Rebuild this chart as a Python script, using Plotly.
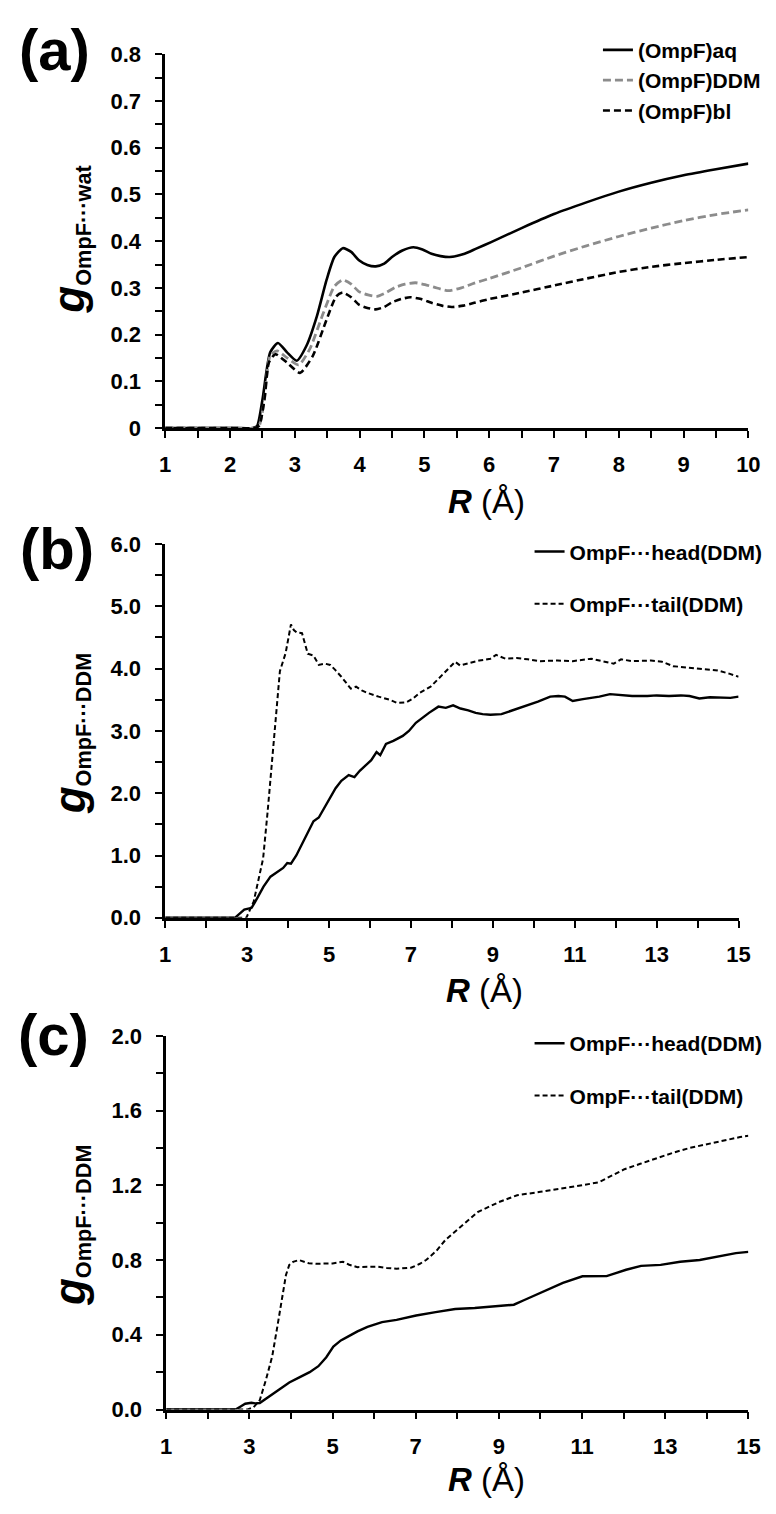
import plotly.graph_objects as go

W, H = 776, 1514
FONT = "Liberation Sans, Arial, sans-serif"

# ---------------- data ----------------
# panel (a): g(OmpF...wat)
aq_R = [1.0, 2.0, 2.35, 2.42, 2.5, 2.62, 2.74, 2.88, 3.03, 3.18, 3.34, 3.49, 3.61, 3.74, 3.87, 3.99, 4.12, 4.25, 4.38, 4.5,
        4.66, 4.83, 4.97, 5.11, 5.25, 5.39, 5.62, 5.8, 6.03, 6.5, 7.0, 7.5, 8.0, 8.5, 9.0, 9.5, 10.0]
aq_g = [0, 0, 0, 0.005, 0.06, 0.162, 0.182, 0.162, 0.144, 0.176, 0.239, 0.317, 0.366, 0.385, 0.377, 0.359, 0.349, 0.346,
        0.352, 0.366, 0.38, 0.387, 0.382, 0.373, 0.368, 0.366, 0.373, 0.384, 0.398, 0.428, 0.458, 0.483, 0.506, 0.525,
        0.541, 0.554, 0.566]

ddm_R = [1.0, 2.0, 2.38, 2.45, 2.53, 2.62, 2.73, 2.88, 3.06, 3.23, 3.44, 3.61, 3.74, 3.87, 3.99, 4.13, 4.27, 4.41, 4.55,
         4.7, 4.86, 5.01, 5.16, 5.37, 5.57, 5.77, 6.0, 6.5, 7.0, 7.5, 8.0, 8.5, 9.0, 9.5, 10.0]
ddm_g = [0, 0, 0, 0.005, 0.06, 0.155, 0.165, 0.15, 0.135, 0.169, 0.246, 0.303, 0.317, 0.308, 0.292, 0.285, 0.282, 0.29,
         0.301, 0.308, 0.311, 0.307, 0.301, 0.294, 0.3, 0.31, 0.32, 0.343, 0.368, 0.39, 0.41, 0.428, 0.444, 0.457, 0.467]

bl_R = [1.0, 2.0, 2.38, 2.45, 2.53, 2.6, 2.7, 2.88, 3.08, 3.28, 3.49, 3.64, 3.74, 3.87, 3.99, 4.12, 4.25, 4.38, 4.5, 4.64,
        4.78, 4.95, 5.11, 5.27, 5.42, 5.6, 5.77, 6.0, 6.5, 7.0, 7.5, 8.0, 8.5, 9.0, 9.5, 10.0]
bl_g = [0, 0, 0, 0.005, 0.06, 0.14, 0.158, 0.14, 0.118, 0.155, 0.232, 0.282, 0.29, 0.28, 0.264, 0.257, 0.254, 0.259,
        0.269, 0.276, 0.28, 0.276, 0.268, 0.262, 0.259, 0.262, 0.268, 0.276, 0.29, 0.305, 0.32, 0.334, 0.345, 0.353,
        0.36, 0.366]

# panel (b): g(OmpF...DDM)
head_b_R = [1.0, 2.0, 2.7, 2.93, 3.11, 3.25, 3.4, 3.57, 3.75, 3.88, 3.98, 4.07, 4.2, 4.39, 4.52, 4.62, 4.75, 4.95, 5.16,
            5.3, 5.48, 5.62, 5.75, 5.9, 6.03, 6.16, 6.25, 6.39, 6.57, 6.8, 6.95, 7.12, 7.3, 7.44, 7.67, 7.85, 8.03,
            8.21, 8.4, 8.58, 8.75, 8.94, 9.21, 9.49, 9.7, 9.9, 10.1, 10.4, 10.6, 10.76, 10.95, 11.2, 11.4, 11.6, 11.86,
            12.13, 12.4, 12.77, 13.0, 13.3, 13.59, 13.8, 14.04, 14.3, 14.59, 14.8, 15.0]
head_b_g = [0, 0, 0, 0.13, 0.16, 0.32, 0.5, 0.66, 0.74, 0.8, 0.88, 0.87, 1.0, 1.24, 1.42, 1.55, 1.61, 1.85, 2.08, 2.2,
            2.29, 2.26, 2.36, 2.45, 2.53, 2.66, 2.61, 2.79, 2.84, 2.92, 3.0, 3.13, 3.22, 3.29, 3.39, 3.37, 3.41, 3.36,
            3.33, 3.29, 3.27, 3.26, 3.27, 3.33, 3.38, 3.42, 3.47, 3.55, 3.56, 3.55, 3.48, 3.51, 3.53, 3.55, 3.59, 3.57,
            3.56, 3.56, 3.57, 3.56, 3.57, 3.56, 3.52, 3.54, 3.54, 3.53, 3.55]

tail_b_R = [1.0, 2.0, 2.98, 3.16, 3.39, 3.5, 3.61, 3.72, 3.8, 3.94, 4.07, 4.14, 4.21, 4.34, 4.48, 4.62, 4.75, 4.9, 5.03,
            5.15, 5.3, 5.53, 5.66, 5.8, 5.94, 6.21, 6.48, 6.66, 6.89, 7.05, 7.21, 7.48, 7.76, 8.08, 8.2, 8.39, 8.67,
            8.94, 9.08, 9.31, 9.58, 9.85, 10.13, 10.58, 10.95, 11.4, 11.67, 11.95, 12.13, 12.4, 12.86, 13.13, 13.4,
            13.77, 14.13, 14.49, 14.77, 15.0]
tail_b_g = [0, 0, 0, 0.26, 0.95, 1.7, 2.53, 3.4, 3.96, 4.25, 4.71, 4.62, 4.58, 4.57, 4.24, 4.21, 4.06, 4.08, 4.06, 3.98,
            3.87, 3.68, 3.71, 3.65, 3.61, 3.55, 3.5, 3.45, 3.46, 3.52, 3.61, 3.71, 3.89, 4.11, 4.05, 4.08, 4.13, 4.16,
            4.22, 4.16, 4.17, 4.15, 4.12, 4.13, 4.12, 4.16, 4.12, 4.08, 4.15, 4.12, 4.13, 4.11, 4.04, 4.02, 3.99, 3.97,
            3.92, 3.87]

# panel (c): g(OmpF...DDM)
head_c_R = [1.0, 2.0, 2.67, 2.8, 2.9, 3.05, 3.14, 3.25, 3.4, 3.55, 3.75, 3.96, 4.19, 4.45, 4.66, 4.85, 5.02, 5.2, 5.37,
            5.6, 5.84, 6.19, 6.54, 7.01, 7.48, 7.95, 8.42, 8.89, 9.36, 9.6, 9.83, 10.2, 10.54, 11.01, 11.3, 11.59,
            12.06, 12.42, 12.89, 13.36, 13.83, 14.1, 14.41, 14.7, 15.0]
head_c_g = [0, 0, 0, 0.018, 0.031, 0.036, 0.033, 0.035, 0.058, 0.084, 0.115, 0.145, 0.171, 0.2, 0.232, 0.28, 0.337,
            0.37, 0.39, 0.418, 0.442, 0.468, 0.48, 0.503, 0.521, 0.538, 0.543, 0.55, 0.561, 0.585, 0.608, 0.645, 0.678,
            0.713, 0.713, 0.714, 0.748, 0.769, 0.774, 0.791, 0.80, 0.812, 0.826, 0.837, 0.844]

tail_c_R = [1.0, 2.0, 2.96, 3.1, 3.25, 3.4, 3.55, 3.67, 3.78, 3.88, 3.96, 4.05, 4.19, 4.43, 4.6, 4.78, 5.0, 5.25, 5.4,
            5.6, 6.07, 6.3, 6.54, 6.9, 7.1, 7.25, 7.5, 7.72, 8.1, 8.5, 9.0, 9.44, 10.0, 10.46, 11.0, 11.4, 12.02, 12.4,
            12.81, 13.2, 13.59, 14.2, 14.8, 15.0]
tail_c_g = [0, 0, 0, 0.012, 0.05, 0.16, 0.285, 0.44, 0.6, 0.72, 0.774, 0.79, 0.80, 0.783, 0.78, 0.78, 0.782, 0.791,
            0.775, 0.762, 0.765, 0.758, 0.753, 0.76, 0.78, 0.80, 0.85, 0.909, 0.98, 1.058, 1.11, 1.147, 1.165, 1.18,
            1.2, 1.216, 1.286, 1.315, 1.347, 1.375, 1.40, 1.43, 1.458, 1.465]

names_a = ["(OmpF)aq", "(OmpF)DDM", "(OmpF)bl"]
names_bc = ["OmpF···head(DDM)", "OmpF···tail(DDM)"]
panel_labels = ["(a)", "(b)", "(c)"]
ytitle_subs = ["OmpF···wat", "OmpF···DDM", "OmpF···DDM"]


# ---------------- helpers ----------------
def px(x):
    return x / W


def py(y):
    return 1 - y / H


fig = go.Figure()

# panel (a)
fig.add_trace(go.Scatter(x=aq_R, y=aq_g, name=names_a[0], mode="lines", line=dict(color="black", width=2.6, shape="spline", smoothing=0.6),
                         xaxis="x", yaxis="y", legend="legend"))
fig.add_trace(go.Scatter(x=ddm_R, y=ddm_g, name=names_a[1], mode="lines", line=dict(color="#8c8c8c", width=2.8, dash="8px,4px", shape="spline", smoothing=0.6),
                         xaxis="x", yaxis="y", legend="legend"))
fig.add_trace(go.Scatter(x=bl_R, y=bl_g, name=names_a[2], mode="lines", line=dict(color="black", width=2.6, dash="7px,4px", shape="spline", smoothing=0.6),
                         xaxis="x", yaxis="y", legend="legend"))

# panel (b)
fig.add_trace(go.Scatter(x=head_b_R, y=head_b_g, name=names_bc[0], mode="lines", line=dict(color="black", width=2.4),
                         xaxis="x2", yaxis="y2", legend="legend2", legendgroup="b1"))
fig.add_trace(go.Scatter(x=tail_b_R, y=tail_b_g, name=names_bc[1], mode="lines", line=dict(color="black", width=2, dash="5px,3px"),
                         xaxis="x2", yaxis="y2", legend="legend2", legendgroup="b2"))

# panel (c)
fig.add_trace(go.Scatter(x=head_c_R, y=head_c_g, name=names_bc[0], mode="lines", line=dict(color="black", width=2.4),
                         xaxis="x3", yaxis="y3", legend="legend3", legendgroup="c1"))
fig.add_trace(go.Scatter(x=tail_c_R, y=tail_c_g, name=names_bc[1], mode="lines", line=dict(color="black", width=2, dash="5px,3px"),
                         xaxis="x3", yaxis="y3", legend="legend3", legendgroup="c2"))

tickfont = dict(family=FONT, size=22, color="black", weight="bold")


def xaxis(dom, rng, dtick, minor_dtick, anchor):
    return dict(domain=[px(dom[0]), px(dom[1])], range=rng, anchor=anchor, showline=True, linecolor="black", linewidth=2.5,
                ticks="outside", ticklen=7, tickwidth=2, tickcolor="black", tick0=1, dtick=dtick,
                minor=dict(dtick=minor_dtick, tick0=1, ticks="outside", ticklen=7, tickwidth=2, tickcolor="black", showgrid=False),
                showgrid=False, zeroline=False, tickfont=tickfont, ticklabelstandoff=8, fixedrange=True)


def yaxis(dom, rng, dtick, minor_dtick, anchor, fmt):
    return dict(domain=[py(dom[1]), py(dom[0])], range=rng, anchor=anchor, showline=True, linecolor="black", linewidth=2.5,
                ticks="outside", ticklen=7, tickwidth=2, tickcolor="black", tick0=0, dtick=dtick, tickformat=fmt,
                minor=dict(dtick=minor_dtick, tick0=0, ticks="outside", ticklen=7, tickwidth=2, tickcolor="black", showgrid=False),
                showgrid=False, zeroline=False, tickfont=tickfont, ticklabelstandoff=10, fixedrange=True)


legfont = dict(family=FONT, size=21, color="black", weight="bold")

fig.update_layout(
    width=W, height=H, margin=dict(l=0, r=0, t=0, b=0),
    paper_bgcolor="white", plot_bgcolor="white",
    font=dict(family=FONT, color="black"),
    xaxis=xaxis((163, 760), [1, 10], 1, 0.5, "y"),
    yaxis=yaxis((43, 423), [0, 0.8], 0.1, 0.05, "x", ""),
    xaxis2=xaxis((163, 750), [1, 15], 2, 1, "y2"),
    yaxis2=yaxis((541, 921), [0, 6], 1, 0.5, "x2", ".1f"),
    xaxis3=xaxis((164, 760), [1, 15], 2, 1, "y3"),
    yaxis3=yaxis((1041, 1421), [0, 2], 0.4, 0.2, "x3", ".1f"),
    legend=dict(x=px(606), y=py(18), xanchor="left", yanchor="top", bgcolor="rgba(0,0,0,0)", font=legfont,
                itemwidth=30, tracegroupgap=0),
    legend2=dict(x=px(536), y=py(528), xanchor="left", yanchor="top", bgcolor="rgba(0,0,0,0)", font=legfont,
                 itemwidth=30, tracegroupgap=22),
    legend3=dict(x=px(536), y=py(1028), xanchor="left", yanchor="top", bgcolor="rgba(0,0,0,0)", font=legfont,
                 itemwidth=30, tracegroupgap=22),
    showlegend=True,
)

annotations = []
label_pos = [(50, 38), (52, 546), (49, 1040)]
for lab, (lx, ly) in zip(panel_labels, label_pos):
    annotations.append(dict(text=f"<b>{lab}</b>", x=px(lx), y=py(ly), xref="paper", yref="paper", xanchor="center",
                            yanchor="middle", showarrow=False, font=dict(family=FONT, size=58, color="black")))

ytitle_pos = [(66, 231), (66, 733), (66, 1233)]
for sub, (tx, ty) in zip(ytitle_subs, ytitle_pos):
    annotations.append(dict(text=f"<b><i><span style='font-size:44px'>g</span></i><sub>{sub}</sub></b>", x=px(tx), y=py(ty),
                            xref="paper", yref="paper", xanchor="center", yanchor="middle", textangle=-90, showarrow=False,
                            font=dict(family=FONT, size=31, color="black")))

xtitle_pos = [(492, 498), (490, 995), (492, 1492)]
for (tx, ty) in xtitle_pos:
    annotations.append(dict(text="<b><i>R</i></b> (Å)", x=px(tx), y=py(ty), xref="paper", yref="paper", xanchor="center",
                            yanchor="middle", showarrow=False, font=dict(family=FONT, size=33, color="black")))

fig.update_layout(annotations=annotations)

fig.write_html("out.html", config={"displayModeBar": False},
               post_script="document.body.style.margin='0px';document.body.style.overflow='hidden';")
